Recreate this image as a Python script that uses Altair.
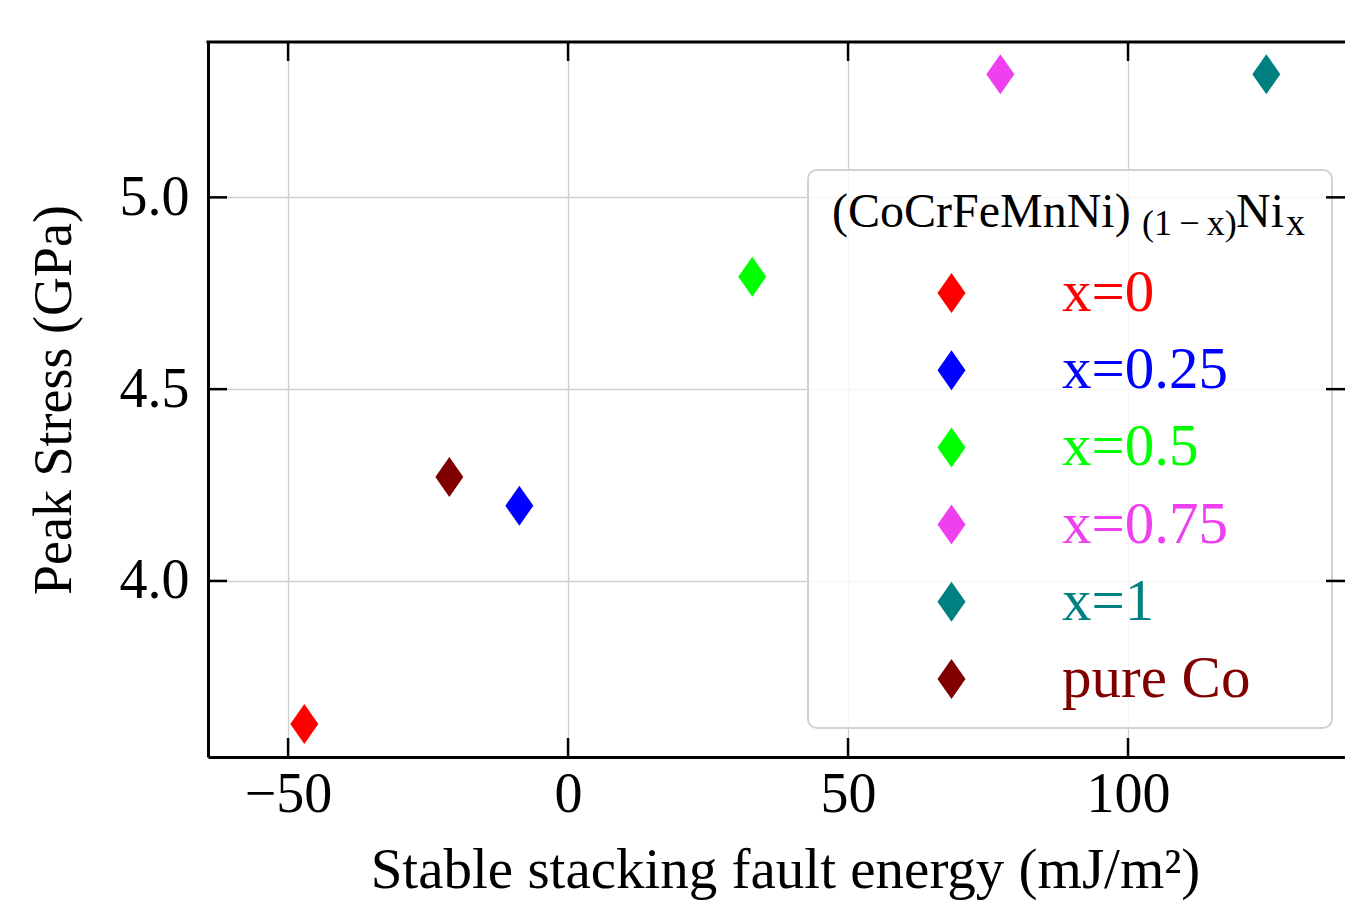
import altair as alt
import pandas as pd

# ---- data ----
labels = ["x=0", "x=0.25", "x=0.5", "x=0.75", "x=1", "pure Co"]
sfe = [-47.1, -8.7, 32.9, 77.2, 124.7, -21.2]
peak = [3.627, 4.196, 4.793, 5.321, 5.321, 4.271]
colors = ["#ff0000", "#0000ff", "#00ff00", "#ee40ee", "#008080", "#800000"]
x_ticks = [-50, 0, 50, 100]
y_ticks = [4.0, 4.5, 5.0]
legend_title_parts = ["(CoCrFeMnNi)", "(1\u2009\u2212\u2009x)", "Ni", "x"]

W, H = 1137, 715
XDOM = [-64.3, 138.75]
YDOM = [3.541, 5.405]
FONT = "Liberation Serif"
DIAMOND = "M0,-1L0.7,0L0,1L-0.7,0Z"
TICK = 19

df = pd.DataFrame({"sfe": sfe, "peak": peak, "label": labels})
xs = alt.Scale(domain=XDOM, nice=False, zero=False)
ys = alt.Scale(domain=YDOM, nice=False, zero=False)

xaxis = alt.Axis(
    values=x_ticks, title="Stable stacking fault energy (mJ/m²)",
    ticks=False, tickSize=0, labelPadding=10,
    labelFont=FONT, labelFontSize=56, labelColor="black",
    titleFont=FONT, titleFontSize=57, titleFontWeight="normal", titleColor="black",
    titleBaseline="alphabetic", titleY=130, titleX=577,
    domainColor="black", domainWidth=3,
    grid=True, gridColor="#cfcfcf", gridWidth=1.3,
)
yaxis = alt.Axis(
    values=y_ticks, format=".1f", title="Peak Stress (GPa)",
    ticks=False, tickSize=0, labelPadding=19,
    labelFont=FONT, labelFontSize=56, labelColor="black",
    titleFont=FONT, titleFontSize=54, titleFontWeight="normal", titleColor="black",
    titleBaseline="alphabetic", titleX=-138, titleAngle=270,
    domainColor="black", domainWidth=3,
    grid=True, gridColor="#cfcfcf", gridWidth=1.3,
)

# legend frame (drawn under the legend entries)
legend_box = alt.Chart(pd.DataFrame({"a": [0]})).mark_rect(
    fill="white", fillOpacity=0.8, stroke="#d2d2d2", strokeWidth=2, cornerRadius=9
).encode(x=alt.value(600), x2=alt.value(1124), y=alt.value(128), y2=alt.value(686))

points = alt.Chart(df).mark_point(
    shape=DIAMOND, filled=True, size=1600, opacity=1, strokeWidth=0
).encode(
    x=alt.X("sfe:Q", scale=xs, axis=xaxis),
    y=alt.Y("peak:Q", scale=ys, axis=yaxis),
    color=alt.Color("label:N", scale=alt.Scale(domain=labels, range=colors), legend=alt.Legend(
        title=None,
        orient="none", legendX=600, legendY=199.5,
        labelFont=FONT, labelFontSize=59, labelLimit=1000,
        labelColor={"expr": "scale('color', datum.value)"},
        symbolType=DIAMOND, symbolSize=1600, symbolStrokeWidth=0,
        symbolOffset=92, labelOffset=81,
        rowPadding=17.2, padding=22,
        fillColor="rgba(255,255,255,0)", strokeColor="rgba(255,255,255,0)",
    )),
)

# legend title with real sub-scripts
tmain = dict(font=FONT, color="black", align="left", baseline="alphabetic")
title_main = alt.Chart(pd.DataFrame({"a": [0]})).mark_text(fontSize=48, **tmain).encode(
    x=alt.value(624), y=alt.value(185), text=alt.value(legend_title_parts[0]))
title_sub = alt.Chart(pd.DataFrame({"a": [0]})).mark_text(fontSize=36, **tmain).encode(
    x=alt.value(934), y=alt.value(193), text=alt.value(legend_title_parts[1]))
title_ni = alt.Chart(pd.DataFrame({"a": [0]})).mark_text(fontSize=48, **tmain).encode(
    x=alt.value(1028), y=alt.value(185), text=alt.value(legend_title_parts[2]))
title_x = alt.Chart(pd.DataFrame({"a": [0]})).mark_text(fontSize=38, **tmain).encode(
    x=alt.value(1078), y=alt.value(193), text=alt.value(legend_title_parts[3]))

xt = pd.DataFrame({"t": x_ticks})
yt = pd.DataFrame({"t": y_ticks})
rule = dict(color="black", strokeWidth=2.5)

bottom_ticks = alt.Chart(xt).mark_rule(**rule).encode(
    x=alt.X("t:Q", scale=xs, axis=xaxis), y=alt.value(H - TICK), y2=alt.value(H))
top_ticks = alt.Chart(xt).mark_rule(**rule).encode(
    x=alt.X("t:Q", scale=xs, axis=xaxis), y=alt.value(0), y2=alt.value(TICK))
left_ticks = alt.Chart(yt).mark_rule(**rule).encode(
    y=alt.Y("t:Q", scale=ys, axis=yaxis), x=alt.value(0), x2=alt.value(TICK))
right_ticks = alt.Chart(yt).mark_rule(**rule).encode(
    y=alt.Y("t:Q", scale=ys, axis=yaxis), x=alt.value(W - TICK), x2=alt.value(W))
top_spine = alt.Chart(pd.DataFrame({"a": [0]})).mark_rule(color="black", strokeWidth=3).encode(
    x=alt.value(-1.5), x2=alt.value(W), y=alt.value(0))

chart = alt.layer(
    legend_box, points, bottom_ticks, top_ticks, left_ticks, right_ticks, top_spine,
    title_main, title_sub, title_ni, title_x,
).properties(
    width=W, height=H,
    autosize=alt.AutoSizeParams(type="none"),
    padding={"left": 200, "top": 34, "right": 0, "bottom": 144},
).configure_view(stroke=None).configure(background="white")

chart.save("out.html", embed_options={"renderer": "svg", "actions": False})
